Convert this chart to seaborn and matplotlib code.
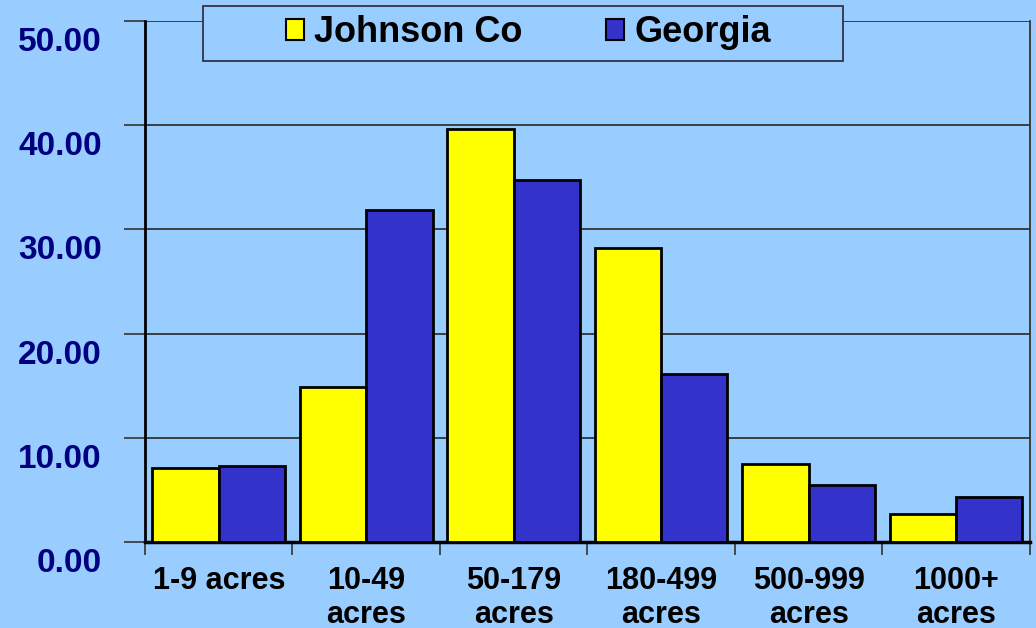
import matplotlib
matplotlib.use("Agg")
import matplotlib.pyplot as plt
import matplotlib.transforms as mtransforms
from matplotlib.patches import Patch, Rectangle
import pandas as pd
import seaborn as sns

# farm size categories and shares (%)
categories = ["1-9 acres", "10-49\nacres", "50-179\nacres", "180-499\nacres",
              "500-999\nacres", "1000+\nacres"]
johnson_co = [7.1, 14.9, 39.6, 28.2, 7.5, 2.7]
georgia = [7.3, 31.9, 34.7, 16.1, 5.5, 4.3]
series = ["Johnson Co", "Georgia"]
y_ticks = [0, 10, 20, 30, 40, 50]

BG = "#99CCFF"
colors = {"Johnson Co": "#FFFF00", "Georgia": "#3333CC"}

df = pd.DataFrame({
    "size": categories * 2,
    "share": johnson_co + georgia,
    "area": [series[0]] * len(categories) + [series[1]] * len(categories),
})

plt.rcParams["font.family"] = ["Liberation Sans", "DejaVu Sans"]
plt.rcParams["font.weight"] = "bold"

fig = plt.figure(figsize=(10.36, 6.28), dpi=100, facecolor=BG)
ax = fig.add_axes([0.14, 0.137, 0.854, 0.8296])
ax.set_facecolor(BG)

sns.barplot(data=df, x="size", y="share", hue="area", hue_order=series,
            palette=colors, saturation=1, width=0.9, edgecolor="black",
            linewidth=2, legend=False, ax=ax, zorder=3)

ax.set_ylim(0, 50)
ax.set_xlim(-0.5, 5.5)
ax.set_yticks(y_ticks)
ax.set_yticklabels([f"{v:.2f}" for v in y_ticks])
ax.yaxis.grid(True, color="#333333", linewidth=1.3, zorder=0)
ax.set_axisbelow(True)
ax.set_xlabel("")
ax.set_ylabel("")

ax.tick_params(axis="y", length=15, width=1.2, color="#333333", pad=16,
               labelsize=24, labelcolor="#000080")
offset = mtransforms.ScaledTranslation(0, -18 / 100, fig.dpi_scale_trans)
for lab in ax.get_yticklabels():
    lab.set_transform(lab.get_transform() + offset)
    lab.set_fontweight("bold")

ax.set_xticks(range(len(categories)))
ax.set_xticklabels(categories)
ax.set_xticks([i - 0.5 for i in range(len(categories) + 1)], minor=True)
ax.tick_params(axis="x", which="major", length=0, pad=17, labelsize=22,
               labelcolor="black")
ax.tick_params(axis="x", which="minor", length=9, width=1.2, color="#333333")
for lab in ax.get_xticklabels():
    lab.set_fontweight("bold")
    lab.set_linespacing(1.2)

ax.spines["top"].set_visible(False)
ax.spines["left"].set_linewidth(2)
ax.spines["left"].set_color("black")
ax.spines["bottom"].set_linewidth(2.5)
ax.spines["bottom"].set_color("black")
ax.spines["right"].set_linewidth(1.3)
ax.spines["right"].set_color("#333333")

# legend box
fig.patches.append(Rectangle((203 / 1036, 1 - 61 / 628), 640 / 1036, 55 / 628,
                             transform=fig.transFigure, facecolor=BG,
                             edgecolor="#333344", linewidth=1.3, zorder=5))
handles = [Patch(facecolor=colors[s], edgecolor="black", linewidth=1.5)
           for s in series]
leg = fig.legend(handles, series, loc="center", bbox_to_anchor=(0.51, 0.9475),
                 ncol=2, frameon=False, handlelength=0.5,
                 handleheight=0.5, handletextpad=0.3, columnspacing=2.3,
                 prop={"weight": "bold", "size": 26})
leg.set_zorder(6)

fig.savefig("out.png", dpi=100, facecolor=BG)
